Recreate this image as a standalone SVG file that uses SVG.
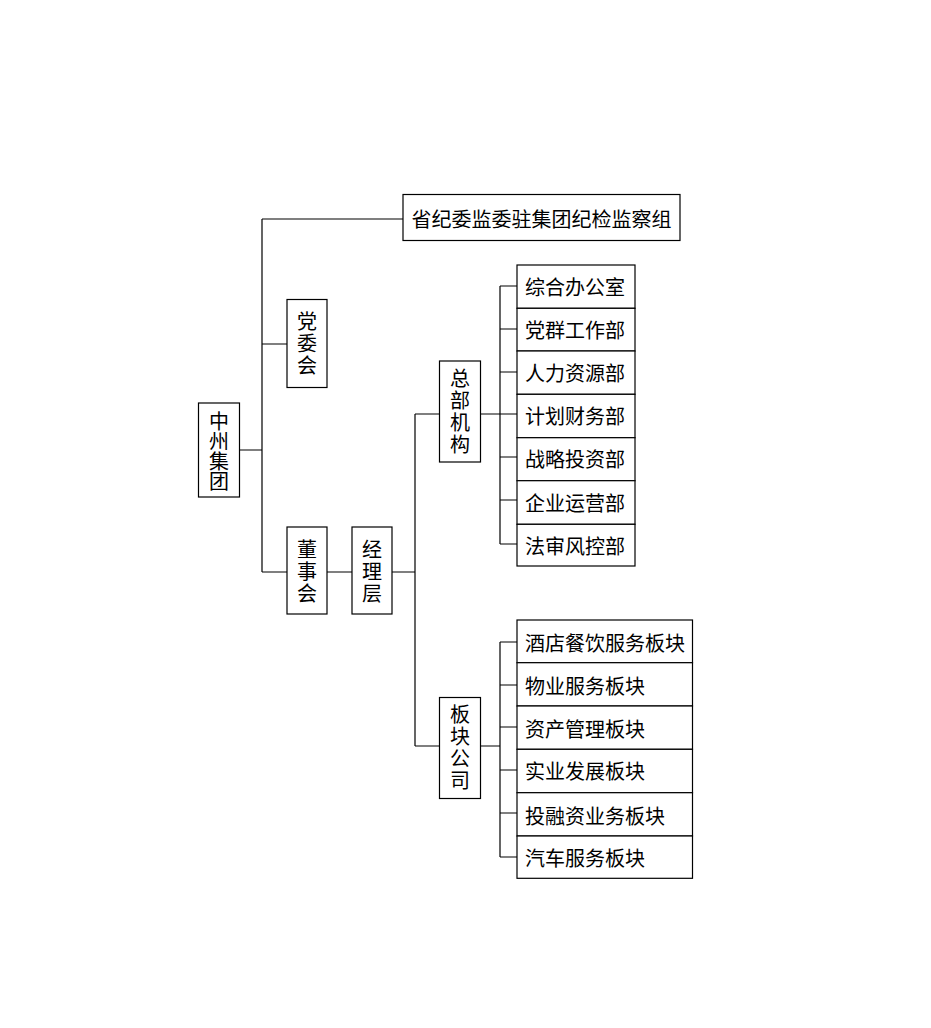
<svg xmlns="http://www.w3.org/2000/svg" width="931" height="1028" viewBox="0 0 931 1028">
<style>
rect{fill:#fff;stroke:#000;stroke-width:1.2}
text{font-family:"Noto Sans CJK SC","Noto Sans CJK JP",sans-serif;font-size:20px;fill:#000;dominant-baseline:central}
.v{writing-mode:vertical-rl;text-anchor:middle;letter-spacing:2px}
.v0{letter-spacing:0}
#conn path{fill:none;stroke:#000;stroke-width:1.2}
</style>
<rect x="0" y="0" width="931" height="1028" style="stroke:none"/>
<g id="conn">
<path d="M239,450H262M262,219V572M262,219H403M262,344H287M262,572H287M327,572H352M392,572H415M415,414V746M415,414H439M415,746H439"/>
<path d="M481,414H500M500,286V544M500,286H517M500,329H517M500,372H517M500,414H517M500,457H517M500,500H517M500,544H517"/>
<path d="M481,746H500M500,642V857M500,642H517M500,685H517M500,727H517M500,770H517M500,813H517M500,857H517"/>
</g>
<g id="n-zhongzhou"><rect x="198.5" y="403" width="41" height="94"/><text class="v v0" x="219" y="451">中州集团</text></g>
<g id="n-jiwei"><rect x="403" y="194.5" width="277" height="46"/><text x="541.5" y="218" text-anchor="middle">省纪委监委驻集团纪检监察组</text></g>
<g id="n-dangwei"><rect x="287" y="299.5" width="40" height="88"/><text class="v" x="307" y="344">党委会</text></g>
<g id="n-dongshi"><rect x="287" y="527" width="40" height="87"/><text class="v" x="307" y="572">董事会</text></g>
<g id="n-jingli"><rect x="352" y="527" width="40" height="87"/><text class="v" x="372" y="572">经理层</text></g>
<g id="n-zongbu"><rect x="439.5" y="361" width="41" height="101"/><text class="v" x="460" y="412">总部机构</text></g>
<g id="n-bankuai"><rect x="439.5" y="697.5" width="41" height="101"/><text class="v" x="460" y="748">板块公司</text></g>
<g id="n-d1"><rect x="517" y="265" width="118" height="43.3"/><text x="525" y="286">综合办公室</text></g>
<g id="n-d2"><rect x="517" y="308.3" width="118" height="42.7"/><text x="525" y="329">党群工作部</text></g>
<g id="n-d3"><rect x="517" y="351" width="118" height="43.3"/><text x="525" y="372">人力资源部</text></g>
<g id="n-d4"><rect x="517" y="394.3" width="118" height="43.4"/><text x="525" y="415">计划财务部</text></g>
<g id="n-d5"><rect x="517" y="437.7" width="118" height="43"/><text x="525" y="458">战略投资部</text></g>
<g id="n-d6"><rect x="517" y="480.7" width="118" height="43.6"/><text x="525" y="502">企业运营部</text></g>
<g id="n-d7"><rect x="517" y="524.3" width="118" height="41.7"/><text x="525" y="545">法审风控部</text></g>
<g id="n-b1"><rect x="517" y="620" width="175.5" height="42.7"/><text x="525" y="642">酒店餐饮服务板块</text></g>
<g id="n-b2"><rect x="517" y="662.7" width="175.5" height="43.3"/><text x="525" y="685">物业服务板块</text></g>
<g id="n-b3"><rect x="517" y="706" width="175.5" height="43.3"/><text x="525" y="728">资产管理板块</text></g>
<g id="n-b4"><rect x="517" y="749.3" width="175.5" height="43.4"/><text x="525" y="770">实业发展板块</text></g>
<g id="n-b5"><rect x="517" y="792.7" width="175.5" height="43.3"/><text x="525" y="815">投融资业务板块</text></g>
<g id="n-b6"><rect x="517" y="836" width="175.5" height="42.3"/><text x="525" y="857">汽车服务板块</text></g>
</svg>
